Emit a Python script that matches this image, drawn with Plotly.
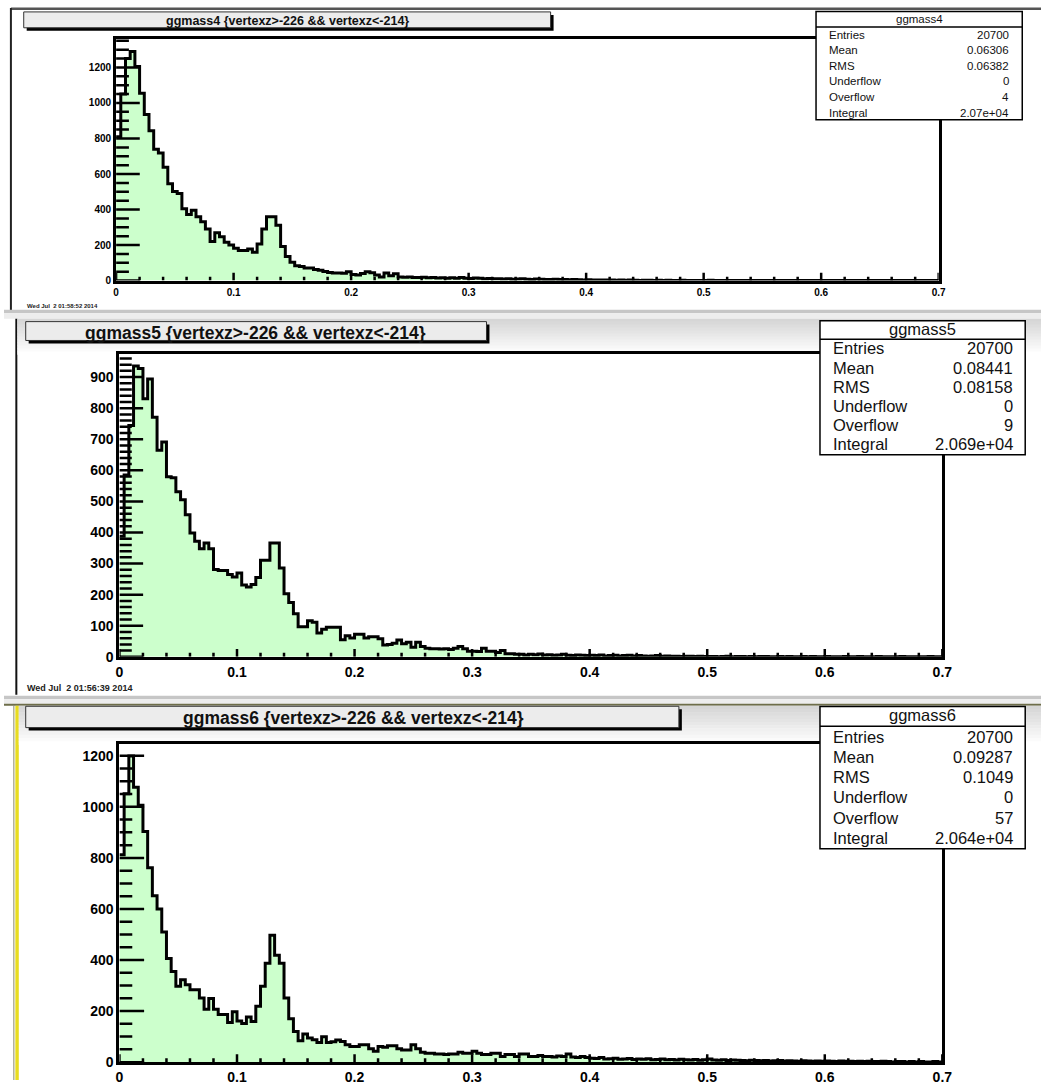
import plotly.graph_objects as go

W, H = 1051, 1088
BIN_WIDTH = 0.004
X_MAX = 0.7

hist_names = ["ggmass4", "ggmass5", "ggmass6"]
cut_text = "{vertexz>-226 && vertexz<-214}"
dates = ["Wed Jul\u00a0 2 01:58:52 2014", "Wed Jul\u00a0 2 01:56:39 2014"]

ggmass4 = [
    810, 1050, 1250, 1290, 1205, 1055, 935, 843, 740, 718,
    638, 545, 502, 490, 405, 372, 396, 359, 331, 290,
    220, 270, 247, 216, 201, 182, 169, 169, 178, 160,
    206, 290, 359, 359, 312, 192, 136, 103, 84, 80,
    71, 71, 62, 58, 52, 46, 43, 43, 42, 50,
    35, 32, 40, 50, 45, 32, 20, 43, 27, 38,
    20, 19, 21, 18, 17, 19, 16, 17, 15, 16,
    14, 16, 13, 17, 14, 12, 15, 13, 11, 12,
    10, 11, 9, 10, 8, 9, 10, 8, 7, 9,
    8, 7, 6, 8, 6, 7, 5, 6, 5, 4,
    5, 4, 3, 4, 3, 3, 2, 3, 2, 3,
    2, 1, 2, 2, 1, 2, 1, 2, 1, 1,
    2, 1, 1, 0, 1, 1, 2, 0, 1, 1,
    0, 1, 0, 1, 1, 0, 0, 1, 0, 1,
    0, 0, 1, 0, 0, 1, 0, 0, 0, 1,
    0, 0, 1, 0, 0, 0, 0, 1, 0, 0,
    0, 0, 0, 1, 0, 0, 0, 0, 0, 0,
    1, 0, 0, 0, 0,
]

ggmass5 = [
    388, 585, 744, 936, 928, 830, 894, 771, 665, 691,
    579, 576, 531, 505, 457, 398, 372, 348, 366, 348,
    281, 278, 278, 265, 257, 270, 231, 225, 233, 255,
    311, 311, 366, 366, 286, 203, 175, 139, 97, 97,
    116, 111, 77, 89, 95, 95, 95, 55, 68, 61,
    73, 73, 61, 65, 65, 58, 38, 40, 44, 54,
    42, 47, 31, 47, 33, 28, 26, 26, 25, 26,
    24, 28, 33, 26, 18, 18, 17, 28, 18, 18,
    14, 20, 10, 10, 8, 8, 6, 8, 7, 9,
    6, 7, 5, 6, 8, 5, 4, 6, 5, 4,
    5, 4, 6, 3, 4, 5, 3, 4, 5, 3,
    4, 3, 2, 3, 4, 2, 3, 2, 2, 1,
    2, 2, 1, 2, 1, 1, 1, 0, 1, 2,
    0, 1, 1, 0, 1, 0, 1, 1, 0, 0,
    1, 0, 1, 0, 0, 1, 0, 1, 0, 0,
    1, 0, 0, 0, 1, 0, 0, 1, 0, 0,
    0, 1, 0, 0, 0, 0, 1, 0, 0, 0,
    0, 0, 1, 0, 0,
]

ggmass6 = [
    812, 1051, 1199, 1077, 1006, 903, 761, 652, 600, 510,
    406, 355, 297, 323, 303, 284, 284, 251, 207, 249,
    207, 187, 187, 155, 197, 161, 151, 177, 159, 219,
    297, 387, 497, 419, 387, 251, 170, 120, 84, 110,
    95, 88, 77, 99, 77, 80, 87, 81, 68, 61,
    61, 68, 68, 52, 43, 61, 58, 64, 64, 52,
    48, 48, 68, 52, 39, 35, 35, 32, 32, 30,
    32, 32, 39, 35, 35, 43, 35, 30, 30, 35,
    35, 22, 30, 30, 22, 32, 32, 22, 22, 26,
    22, 22, 20, 24, 22, 32, 20, 18, 22, 18,
    15, 14, 18, 12, 13, 15, 11, 12, 14, 10,
    12, 11, 13, 9, 10, 12, 9, 10, 8, 11,
    9, 8, 10, 7, 9, 12, 8, 7, 9, 6,
    8, 7, 6, 5, 7, 6, 5, 6, 4, 5,
    6, 4, 5, 4, 3, 5, 4, 3, 4, 3,
    4, 3, 2, 4, 3, 3, 2, 3, 2, 3,
    2, 2, 3, 2, 1, 2, 2, 1, 2, 1,
    2, 1, 1, 2, 1,
]

stat_labels = ["Entries", "Mean", "RMS", "Underflow", "Overflow", "Integral"]
stats4 = ["20700", "0.06306", "0.06382", "0", "4", "2.07e+04"]
stats5 = ["20700", "0.08441", "0.08158", "0", "9", "2.069e+04"]
stats6 = ["20700", "0.09287", "0.1049", "0", "57", "2.064e+04"]

y_max = [1360, 974, 1247]
y_major = [200, 100, 200]
y_minor = [50, 20, 50]
x_major = 0.1
x_minor = 0.02

series = [ggmass4, ggmass5, ggmass6]
stats = [stats4, stats5, stats6]

# pixel geometry of each pad
geo = [
    dict(frame=(113.6, 947.3, 39.3, 282.7), tbox=(20, 557, 12, 31), tc=(287, 21), tsize=12.5,
         sbox=(823, 1032, 11.7, 120.7), shead=27.3, shy=19.5, srow0=35.0, sstep=15.7,
         slx=834, srx=1021, ssize=11.5, ticksize=10, yt=(24, 13), xt=(8, 4)),
    dict(frame=(117, 951, 356.7, 661.7), tbox=(22, 492, 324, 346), tc=(255, 335), tsize=17.5,
         sbox=(827, 1035, 323, 458), shead=341.7, shy=331, srow0=351.0, sstep=19.3,
         slx=838, srx=1024.5, ssize=16.5, ticksize=14, yt=(24, 12.5), xt=(8, 4)),
    dict(frame=(117, 951, 749.3, 1070), tbox=(22, 687, 711.5, 736), tc=(354, 723.5), tsize=17.5,
         sbox=(827, 1035, 711.7, 855), shead=731.7, shy=720, srow0=742.0, sstep=20.4,
         slx=838, srx=1024.5, ssize=16.5, ticksize=14, yt=(25, 13), xt=(8, 4)),
]


def fx(x):
    return x / W


def fy(y):
    return 1 - y / H


def rect(x0, x1, y0, y1, fill, lc=None, lw=0, layer="above"):
    return dict(type="rect", xref="paper", yref="paper", x0=fx(x0), x1=fx(x1),
                y0=fy(y1), y1=fy(y0), fillcolor=fill,
                line=dict(color=lc if lc else fill, width=lw), layer=layer)


def hline(x0, x1, y, color="black", w=1, layer="above"):
    return dict(type="line", xref="paper", yref="paper", x0=fx(x0), x1=fx(x1),
                y0=fy(y), y1=fy(y), line=dict(color=color, width=w), layer=layer)


def vline(x, y0, y1, color="black", w=1, layer="above"):
    return dict(type="line", xref="paper", yref="paper", x0=fx(x), x1=fx(x),
                y0=fy(y0), y1=fy(y1), line=dict(color=color, width=w), layer=layer)


FONT = "Liberation Sans"
fig = go.Figure()
shapes = []
annotations = []
layout = dict(width=W, height=H, margin=dict(l=0, r=0, t=0, b=0),
              paper_bgcolor="white", plot_bgcolor="rgba(0,0,0,0)", showlegend=False)

# window decorations / separators
shapes.append(rect(7, W, 7.5, 10, "#555555", layer="below"))
shapes.append(vline(7, 8, 313, "#222222", 2, "below"))
shapes.append(rect(0, W, 312, 315.5, "#c6c6c6", layer="below"))
shapes.append(rect(0, W, 315.5, 321, "#ededed", layer="below"))
shapes.append(vline(12.5, 321, 700, "#111111", 2, "below"))
shapes.append(rect(0, W, 701, 704.5, "#c6c6c6", layer="below"))
shapes.append(rect(0, W, 704.5, 709, "#ededed", layer="below"))
shapes.append(rect(0, W, 709, 711, "#6e6e4a", layer="below"))
shapes.append(vline(10, 711, H, "#888866", 1, "below"))
shapes.append(rect(11.5, 15, 711, H, "#e8dc20", layer="below"))

for top, bot in [(321, 357), (711, 750)]:
    n = 12
    for k in range(n):
        y0 = top + (bot - top) * k / n
        y1 = top + (bot - top) * (k + 1) / n
        c = int(0xd6 + (0xff - 0xd6) * k / (n - 1))
        x_left = 13.5 if top == 321 else 15
        shapes.append(rect(x_left, W, y0, y1 + 0.5, f"rgb({c},{c},{c})", layer="below"))

for i in range(3):
    g = geo[i]
    vals = series[i]
    n = len(vals)
    xs = [k * BIN_WIDTH for k in range(n)] + [n * BIN_WIDTH]
    ys = list(vals) + [vals[-1]]
    sx = "" if i == 0 else str(i + 1)
    fig.add_trace(go.Scatter(
        x=xs, y=ys, mode="lines", line=dict(shape="hv", color="black", width=3),
        fill="tozeroy", fillcolor="#ccffcc", xaxis="x" + sx, yaxis="y" + sx,
        hoverinfo="skip"))

    fl, fr, ft, fb = g["frame"]
    plot_w = fr - fl
    plot_h = fb - ft

    # ROOT-style tick marks (inside the frame, long on the y axis), placed in axis units
    ty_x, ty_y = [], []
    k = 0
    while k * y_minor[i] <= y_max[i]:
        v = k * y_minor[i]
        ln_px = g["yt"][0] if v % y_major[i] == 0 else g["yt"][1]
        ty_x += [0, ln_px / plot_w * X_MAX, None]
        ty_y += [v, v, None]
        k += 1
    nx = int(round(X_MAX / x_minor))
    for k in range(nx + 1):
        v = round(k * x_minor, 4)
        is_major = abs(v / x_major - round(v / x_major)) < 1e-6
        ln_px = g["xt"][0] if is_major else g["xt"][1]
        ty_x += [v, v, None]
        ty_y += [0, ln_px / plot_h * y_max[i], None]
    fig.add_trace(go.Scatter(
        x=ty_x, y=ty_y, mode="lines", line=dict(color="black", width=2.5),
        xaxis="x" + sx, yaxis="y" + sx, hoverinfo="skip", cliponaxis=False))

    tickfont = dict(family=FONT, size=g["ticksize"], color="black", weight="bold")
    layout["xaxis" + sx] = dict(
        domain=[fx(fl), fx(fr)], range=[0, X_MAX], anchor="y" + sx,
        showline=True, linecolor="black", linewidth=3, mirror=True,
        ticks="", tick0=0, dtick=x_major, showgrid=False, zeroline=False, tickfont=tickfont,
        layer="above traces", fixedrange=True)
    layout["yaxis" + sx] = dict(
        domain=[fy(fb), fy(ft)], range=[0, y_max[i]], anchor="x" + sx,
        showline=True, linecolor="black", linewidth=3, mirror=True,
        ticks="", tick0=0, dtick=y_major[i], showgrid=False, zeroline=False, tickfont=tickfont,
        layer="above traces", fixedrange=True)

    # title box with shadow
    tx0, tx1, ty0, ty1 = g["tbox"]
    shapes.append(rect(tx0 + 3, tx1, ty0 + 3, ty1, "black"))
    shapes.append(rect(tx0, tx1 - 3, ty0, ty1 - 3, "#ececec", "#333333", 1))
    annotations.append(dict(
        text=f"{hist_names[i]} {cut_text}", x=fx(g["tc"][0]), y=fy(g["tc"][1]),
        xref="paper", yref="paper", xanchor="center", yanchor="middle", showarrow=False,
        font=dict(family=FONT, size=g["tsize"], color="#111111", weight="bold")))

    # statistics box
    sx0, sx1, sy0, sy1 = g["sbox"]
    shapes.append(rect(sx0, sx1, sy0, sy1, "white", "black", 1.5))
    shapes.append(hline(sx0, sx1, g["shead"], "black", 1.5))
    sfont = dict(family=FONT, size=g["ssize"], color="#111111")
    annotations.append(dict(
        text=hist_names[i], x=fx((sx0 + sx1) / 2), y=fy(g["shy"]), xref="paper", yref="paper",
        xanchor="center", yanchor="middle", showarrow=False, font=sfont))
    for r, lab in enumerate(stat_labels):
        yy = g["srow0"] + r * g["sstep"]
        annotations.append(dict(
            text=lab, x=fx(g["slx"]), y=fy(yy), xref="paper", yref="paper",
            xanchor="left", yanchor="middle", showarrow=False, font=sfont))
        annotations.append(dict(
            text=stats[i][r], x=fx(g["srx"]), y=fy(yy), xref="paper", yref="paper",
            xanchor="right", yanchor="middle", showarrow=False, font=sfont))

annotations.append(dict(
    text=dates[0], x=fx(21), y=fy(308), xref="paper", yref="paper", xanchor="left",
    yanchor="middle", showarrow=False,
    font=dict(family=FONT, size=6, color="#222222", weight="bold")))
annotations.append(dict(
    text=dates[1], x=fx(21), y=fy(693), xref="paper", yref="paper", xanchor="left",
    yanchor="middle", showarrow=False,
    font=dict(family=FONT, size=9, color="#222222", weight="bold")))

layout["shapes"] = shapes
layout["annotations"] = annotations
fig.update_layout(**layout)
fig.write_html("out.html")
